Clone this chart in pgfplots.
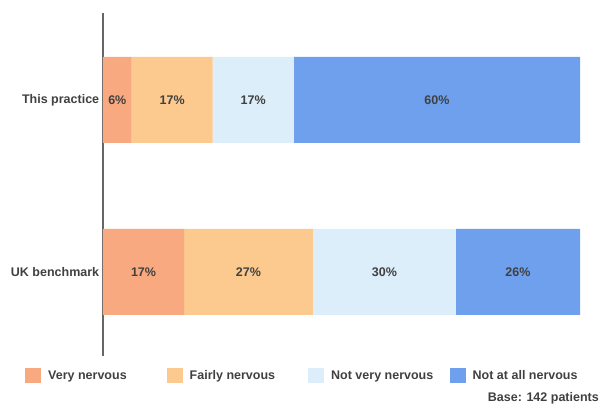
\documentclass[border=0pt]{standalone}
\usepackage{fontspec}
\setmainfont{Liberation Sans}
\usepackage{pgfplots}
\usepackage{pgfplotstable}
\pgfplotsset{compat=1.18}
\definecolor{cA}{HTML}{F8A97F}
\definecolor{cB}{HTML}{FCC98F}
\definecolor{cC}{HTML}{DCEEFA}
\definecolor{cD}{HTML}{6EA0EE}
\definecolor{txt}{HTML}{404040}
\pgfplotstableread{
pos a b c d
256 6 17 17 60
84 17 27 30 26
}\data
\newcommand{\lf}{\fontsize{12.5}{14}\selectfont\bfseries}
\begin{document}
\begin{tikzpicture}[x=1pt,y=1pt]
\useasboundingbox (0,0) rectangle (602,414);
\begin{axis}[
  at={(103pt,58pt)}, anchor=south west,
  scale only axis, width=477pt, height=343pt,
  xbar stacked, bar width=86,
  xmin=0, xmax=100, ymin=0, ymax=343,
  axis x line=none, axis y line=left,
  y axis line style={-, draw=gray!80!black, line width=1.2pt},
  ytick={84,256}, yticklabels={UK benchmark, This practice},
  ytick style={draw=none},
  yticklabel style={font=\lf, text=txt, inner sep=0pt, xshift=-1.5pt},
  point meta=explicit symbolic,
  nodes near coords={\pgfplotspointmeta\%},
  every node near coord/.append style={font=\lf, text=txt, anchor=center, inner sep=0pt},
  myleg/.style={legend image code/.code={\fill[##1] (0pt,-7.5pt) rectangle (16pt,7.5pt);}},
  legend columns=4,
  legend style={at={(-0.1635,-0.0583)}, anchor=west, draw=none, fill=none, inner sep=0pt,
    font=\lf, text=txt, /tikz/every even column/.append style={column sep=0pt}},
  clip=false,
]
\addplot[fill=cA, draw=none, myleg] table[x=a, y=pos, meta=a] {\data};
\addlegendentry{\makebox[121.5pt][l]{\hspace{5pt}Very nervous}}
\addplot[fill=cB, draw=none, myleg] table[x=b, y=pos, meta=b] {\data};
\addlegendentry{\makebox[121.5pt][l]{\hspace{5pt}Fairly nervous}}
\addplot[fill=cC, draw=none, myleg] table[x=c, y=pos, meta=c] {\data};
\addlegendentry{\makebox[121.5pt][l]{\hspace{5pt}Not very nervous}}
\addplot[fill=cD, draw=none, myleg] table[x=d, y=pos, meta=d] {\data};
\addlegendentry{\hspace{5pt}Not at all nervous}
\end{axis}
\node[anchor=east, font=\lf, text=txt, inner sep=0pt] at (599,16) {Base: 142 patients};
\end{tikzpicture}
\end{document}
